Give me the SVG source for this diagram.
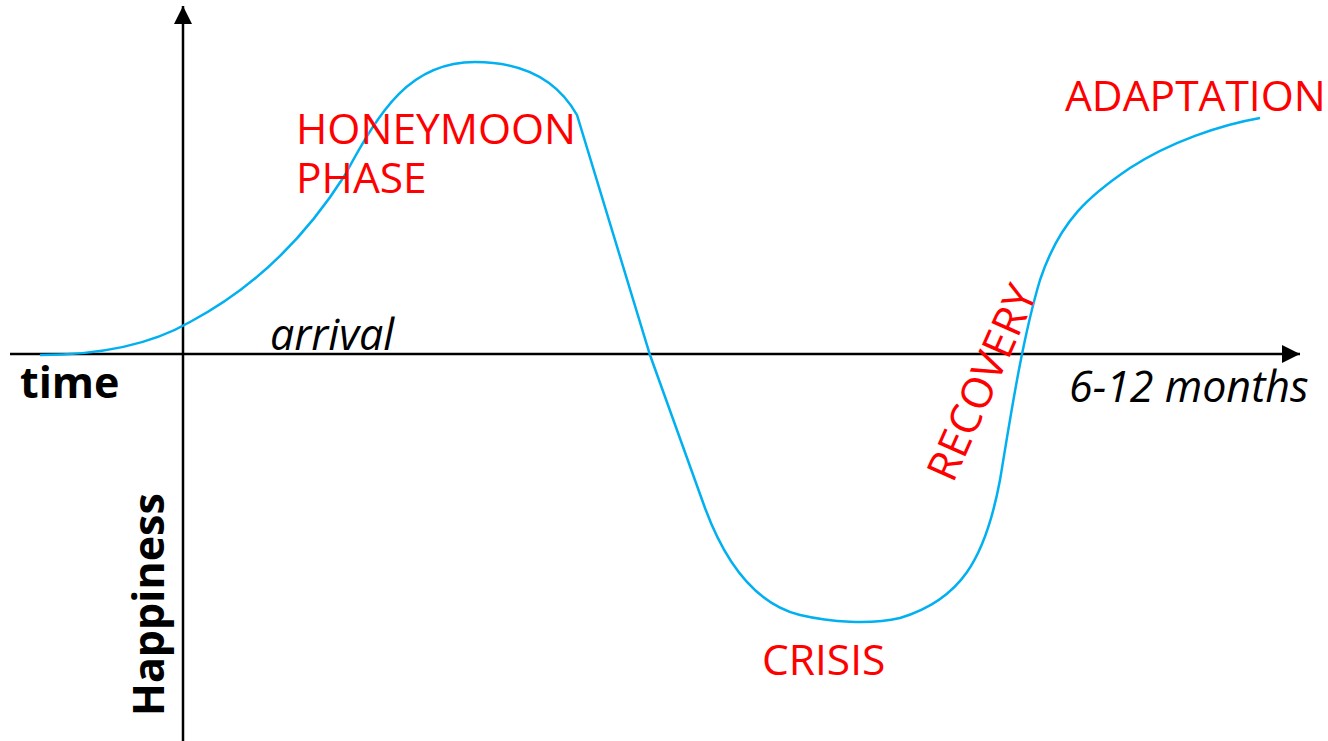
<svg xmlns="http://www.w3.org/2000/svg" width="1328" height="741" viewBox="0 0 1328 741">
<defs>
<marker id="ah2" viewBox="0 0 10 10" refX="10" refY="5" markerWidth="18" markerHeight="18" markerUnits="userSpaceOnUse" orient="auto"><path d="M0,0 L10,5 L0,10 Z" fill="#000"/></marker>
<style>
.axis{stroke:#000;stroke-width:2.5;fill:none}
.lbl{font-family:"Open Sans","Liberation Sans",sans-serif;fill:#000;font-size:43px}
.red{font-family:"Open Sans","Liberation Sans",sans-serif;fill:#ff0000;font-size:42.5px}
.curve{stroke:#00b0f0;stroke-width:2.5;fill:none}
</style>
</defs>
<rect width="1328" height="741" fill="#fff"/>
<g id="connectors">
<line class="axis" x1="10" y1="354" x2="1300" y2="354" marker-end="url(#ah2)"/>
<line class="axis" x1="183" y1="741" x2="183" y2="6" marker-end="url(#ah2)"/>
<path id="curve" class="curve" d="M40,355 C100,355 150,345 190,322 C260,285 310,230 345,175 C380,110 410,62 475,62 C530,62 560,85 577,115 L650,355 L705,508 C728,570 760,605 800,615 C830,622 870,625 900,618 C960,600 985,560 1000,480 C1010,420 1022,340 1040,280 C1060,220 1090,195 1130,168 C1170,142 1220,125 1260,118"/>
</g>
<g id="axis-labels">
<text class="lbl" x="20" y="398" font-weight="bold">time</text>
<text class="lbl" x="0" y="0" font-weight="bold" transform="translate(164,716) rotate(-90)">Happiness</text>
<text class="lbl" x="270" y="350" font-style="italic">arrival</text>
<text class="lbl" x="1069" y="402" font-style="italic">6-12 months</text>
</g>
<g id="phase-honeymoon"><text class="red" x="296" y="144">HONEYMOON</text><text class="red" x="296" y="193">PHASE</text></g>
<g id="phase-crisis"><text class="red" x="762" y="675">CRISIS</text></g>
<g id="phase-recovery"><text class="red" transform="translate(953,484) rotate(-66)">RECOVERY</text></g>
<g id="phase-adaptation"><text class="red" x="1065" y="111">ADAPTATION</text></g>
</svg>
